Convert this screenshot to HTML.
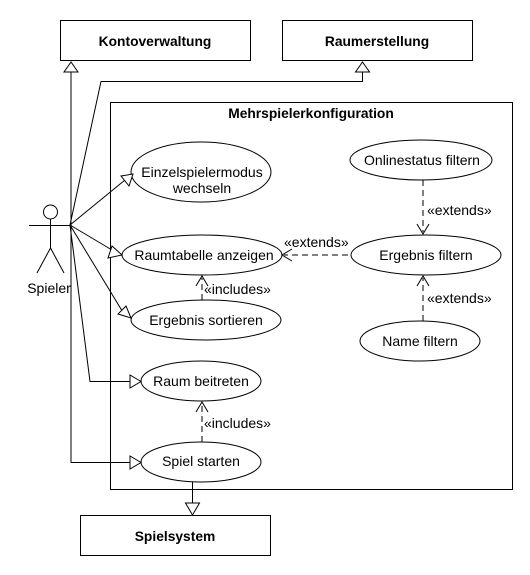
<!DOCTYPE html>
<html><head><style>body{margin:0;background:#fff}</style></head><body>
<svg width="530" height="570" xmlns="http://www.w3.org/2000/svg" font-family="Liberation Sans, sans-serif" font-size="14">
<rect width="530" height="570" fill="#fff"/>
<g fill="#fff" stroke="#000" stroke-width="1">
<rect x="60.5" y="20.5" width="190" height="40"/>
<rect x="282.5" y="20.5" width="190" height="40"/>
<rect x="110.5" y="102.5" width="402" height="387"/>
<rect x="80.5" y="515.5" width="190" height="40"/>
<ellipse cx="201" cy="172" rx="70" ry="30"/>
<ellipse cx="202" cy="255" rx="80" ry="20"/>
<ellipse cx="206" cy="320" rx="75" ry="20"/>
<ellipse cx="201" cy="381" rx="60" ry="20"/>
<ellipse cx="201" cy="462" rx="60" ry="20"/>
<ellipse cx="421" cy="160" rx="71" ry="20"/>
<ellipse cx="426" cy="255" rx="75" ry="20"/>
<ellipse cx="420" cy="341" rx="60" ry="20"/>
</g>
<g fill="none" stroke="#000">
<circle cx="50.5" cy="212" r="7" fill="#fff"/>
<path d="M29 225.5H70M50.5 219V248M50.5 248L37 273M50.5 248L64 273"/>
<path d="M71 225V72M70 225L101 81.5H362.5V72M70 225L125 180M70 225L112 250M70 225L124 314M70 225L90 381.5H130M71 225V462.5H130M192.5 482V503"/>
</g>
<g fill="#fff" stroke="#000">
<path d="M71 62 64 72H78Z"/>
<path d="M362.5 62 355.5 72H369.5Z"/>
<path d="M133 174 121 176 129 186Z"/>
<path d="M122 255 112 246 108 258Z"/>
<path d="M131 318 126 306 118 314Z"/>
<path d="M141 381.5 130 375V388Z"/>
<path d="M141 462.5 130 456V469Z"/>
<path d="M192.5 515 185.5 503H199.5Z"/>
</g>
<g fill="none" stroke="#000" stroke-dasharray="6,4">
<path d="M202 300V278M202 442V404M348 255H284M423 180V232M423 321V278"/>
</g>
<g fill="none" stroke="#000">
<path d="M196 286 202 276 208 286M196 412 202 402 208 412M292 249 282 255 292 261M417 224 423 234 429 224M417 286 423 276 429 286"/>
</g>
<g font-weight="bold" text-anchor="middle" font-size="13.8">
<text x="155" y="46">Kontoverwaltung</text>
<text x="377" y="46">Raumerstellung</text>
<text x="311" y="118">Mehrspielerkonfiguration</text>
<text x="175" y="541">Spielsystem</text>
</g>
<g text-anchor="middle">
<text x="202" y="177">Einzelspielermodus</text>
<text x="202" y="193">wechseln</text>
<text x="204" y="260">Raumtabelle anzeigen</text>
<text x="206" y="325">Ergebnis sortieren</text>
<text x="201" y="386">Raum beitreten</text>
<text x="201" y="466">Spiel starten</text>
<text x="422" y="165">Onlinestatus filtern</text>
<text x="426" y="260">Ergebnis filtern</text>
<text x="420" y="346">Name filtern</text>
<text x="49" y="293">Spieler</text>
</g>
<g>
<text x="204" y="294">«includes»</text>
<text x="204" y="428">«includes»</text>
<text x="284" y="247">«extends»</text>
<text x="427" y="215">«extends»</text>
<text x="427" y="303">«extends»</text>
</g>
</svg>
</body></html>
